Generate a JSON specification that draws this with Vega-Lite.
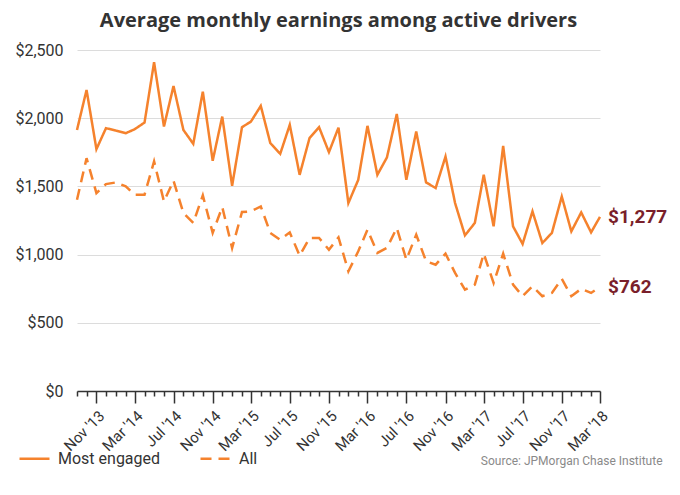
{
  "$schema": "https://vega.github.io/schema/vega-lite/v6.json",
  "width": 523,
  "height": 341,
  "autosize": {"type": "none"},
  "padding": {"left": 77, "top": 50, "right": 80, "bottom": 104},
  "config": {
    "font": "Roboto",
    "view": {"stroke": null}
  },
  "title": {
    "text": "Average monthly earnings among active drivers",
    "anchor": "middle",
    "frame": "group",
    "font": "Open Sans",
    "fontSize": 20,
    "fontWeight": "bold",
    "color": "#333333",
    "offset": 11
  },
  "data": {
    "values": [
      {"date": "2013-09-01", "Most engaged": 1914, "All": 1402},
      {"date": "2013-10-01", "Most engaged": 2207, "All": 1707},
      {"date": "2013-11-01", "Most engaged": 1773, "All": 1451},
      {"date": "2013-12-01", "Most engaged": 1927, "All": 1517},
      {"date": "2014-01-01", "Most engaged": 1909, "All": 1529},
      {"date": "2014-02-01", "Most engaged": 1890, "All": 1500},
      {"date": "2014-03-01", "Most engaged": 1919, "All": 1439},
      {"date": "2014-04-01", "Most engaged": 1968, "All": 1439},
      {"date": "2014-05-01", "Most engaged": 2410, "All": 1683},
      {"date": "2014-06-01", "Most engaged": 1939, "All": 1390},
      {"date": "2014-07-01", "Most engaged": 2236, "All": 1541},
      {"date": "2014-08-01", "Most engaged": 1914, "All": 1305},
      {"date": "2014-09-01", "Most engaged": 1812, "All": 1232},
      {"date": "2014-10-01", "Most engaged": 2195, "All": 1434},
      {"date": "2014-11-01", "Most engaged": 1688, "All": 1159},
      {"date": "2014-12-01", "Most engaged": 2012, "All": 1349},
      {"date": "2015-01-01", "Most engaged": 1505, "All": 1049},
      {"date": "2015-02-01", "Most engaged": 1934, "All": 1312},
      {"date": "2015-03-01", "Most engaged": 1975, "All": 1317},
      {"date": "2015-04-01", "Most engaged": 2090, "All": 1353},
      {"date": "2015-05-01", "Most engaged": 1817, "All": 1159},
      {"date": "2015-06-01", "Most engaged": 1739, "All": 1109},
      {"date": "2015-07-01", "Most engaged": 1951, "All": 1163},
      {"date": "2015-08-01", "Most engaged": 1585, "All": 992},
      {"date": "2015-09-01", "Most engaged": 1854, "All": 1122},
      {"date": "2015-10-01", "Most engaged": 1934, "All": 1122},
      {"date": "2015-11-01", "Most engaged": 1751, "All": 1036},
      {"date": "2015-12-01", "Most engaged": 1931, "All": 1126},
      {"date": "2016-01-01", "Most engaged": 1378, "All": 877},
      {"date": "2016-02-01", "Most engaged": 1548, "All": 1024},
      {"date": "2016-03-01", "Most engaged": 1944, "All": 1183},
      {"date": "2016-04-01", "Most engaged": 1585, "All": 1012},
      {"date": "2016-05-01", "Most engaged": 1712, "All": 1049},
      {"date": "2016-06-01", "Most engaged": 2031, "All": 1195},
      {"date": "2016-07-01", "Most engaged": 1548, "All": 963},
      {"date": "2016-08-01", "Most engaged": 1902, "All": 1146},
      {"date": "2016-09-01", "Most engaged": 1529, "All": 951},
      {"date": "2016-10-01", "Most engaged": 1488, "All": 926},
      {"date": "2016-11-01", "Most engaged": 1719, "All": 1007},
      {"date": "2016-12-01", "Most engaged": 1378, "All": 866},
      {"date": "2017-01-01", "Most engaged": 1141, "All": 743},
      {"date": "2017-02-01", "Most engaged": 1232, "All": 780},
      {"date": "2017-03-01", "Most engaged": 1585, "All": 1007},
      {"date": "2017-04-01", "Most engaged": 1207, "All": 792},
      {"date": "2017-05-01", "Most engaged": 1797, "All": 1007},
      {"date": "2017-06-01", "Most engaged": 1207, "All": 780},
      {"date": "2017-07-01", "Most engaged": 1078, "All": 695},
      {"date": "2017-08-01", "Most engaged": 1317, "All": 768},
      {"date": "2017-09-01", "Most engaged": 1085, "All": 695},
      {"date": "2017-10-01", "Most engaged": 1159, "All": 719},
      {"date": "2017-11-01", "Most engaged": 1426, "All": 822},
      {"date": "2017-12-01", "Most engaged": 1170, "All": 695},
      {"date": "2018-01-01", "Most engaged": 1309, "All": 749},
      {"date": "2018-02-01", "Most engaged": 1163, "All": 719},
      {"date": "2018-03-01", "Most engaged": 1277, "All": 762}
    ]
  },
  "transform": [
    {"fold": ["Most engaged", "All"], "as": ["series", "value"]}
  ],
  "encoding": {
    "x": {
      "field": "date",
      "type": "temporal",
      "scale": {
        "type": "utc",
        "nice": false,
        "domain": [
          {"year": 2013, "month": 9, "date": 1, "utc": true},
          {"year": 2018, "month": 3, "date": 1, "utc": true}
        ]
      },
      "axis": {
        "tickCount": {"interval": "month", "step": 1},
        "format": "%b '%y",
        "labelExpr": "utcmonth(datum.value) % 4 == 2 ? datum.label : ''",
        "labelOverlap": false,
        "labelAngle": -45,
        "labelAlign": "right",
        "labelBaseline": "top",
        "labelPadding": 5,
        "labelFontSize": 15,
        "labelColor": "#333333",
        "labelBound": false,
        "labelFlush": false,
        "grid": false,
        "domainColor": "#333333",
        "domainWidth": 1.5,
        "tickColor": "#333333",
        "tickWidth": 1.5,
        "tickSize": {"condition": {"test": "utcmonth(datum.value) % 4 == 2", "value": 12}, "value": 5},
        "title": "Source: JPMorgan Chase Institute",
        "titleFontSize": 12,
        "titleFontWeight": "normal",
        "titleColor": "#8a8a8a",
        "titleAnchor": "end",
        "titleAlign": "right",
        "titleBaseline": "middle",
        "titleX": 585,
        "titleY": 69
      }
    },
    "y": {
      "field": "value",
      "type": "quantitative",
      "scale": {"domain": [0, 2500], "nice": false},
      "axis": {
        "values": [0, 500, 1000, 1500, 2000, 2500],
        "format": "$,.0f",
        "title": null,
        "domain": false,
        "ticks": false,
        "grid": true,
        "gridColor": "#dcdcdc",
        "gridWidth": 1,
        "labelFontSize": 16,
        "labelColor": "#333333",
        "labelPadding": 14
      }
    }
  },
  "layer": [
    {
      "mark": {"type": "line", "color": "#F5822D", "strokeWidth": 2.5},
      "encoding": {
        "strokeDash": {
          "field": "series",
          "type": "nominal",
          "scale": {"domain": ["Most engaged", "All"], "range": [[1, 0], [11, 7]]},
          "legend": {
            "orient": "none",
            "legendX": -59,
            "legendY": 392,
            "direction": "horizontal",
            "title": null,
            "symbolType": "stroke",
            "symbolSize": 900,
            "symbolStrokeWidth": 2.5,
            "symbolStrokeColor": "#F5822D",
            "labelFontSize": 16,
            "labelColor": "#333333",
            "labelOffset": 7,
            "columnPadding": 34
          }
        }
      }
    },
    {
      "transform": [{"filter": "utcyear(datum.date) == 2018 && utcmonth(datum.date) == 2"}],
      "mark": {"type": "text", "align": "left", "baseline": "middle", "dx": 8, "fontSize": 19, "fontWeight": "bold", "color": "#7A1F2B"},
      "encoding": {
        "text": {"field": "value", "type": "quantitative", "format": "$,.0f"}
      }
    }
  ]
}
